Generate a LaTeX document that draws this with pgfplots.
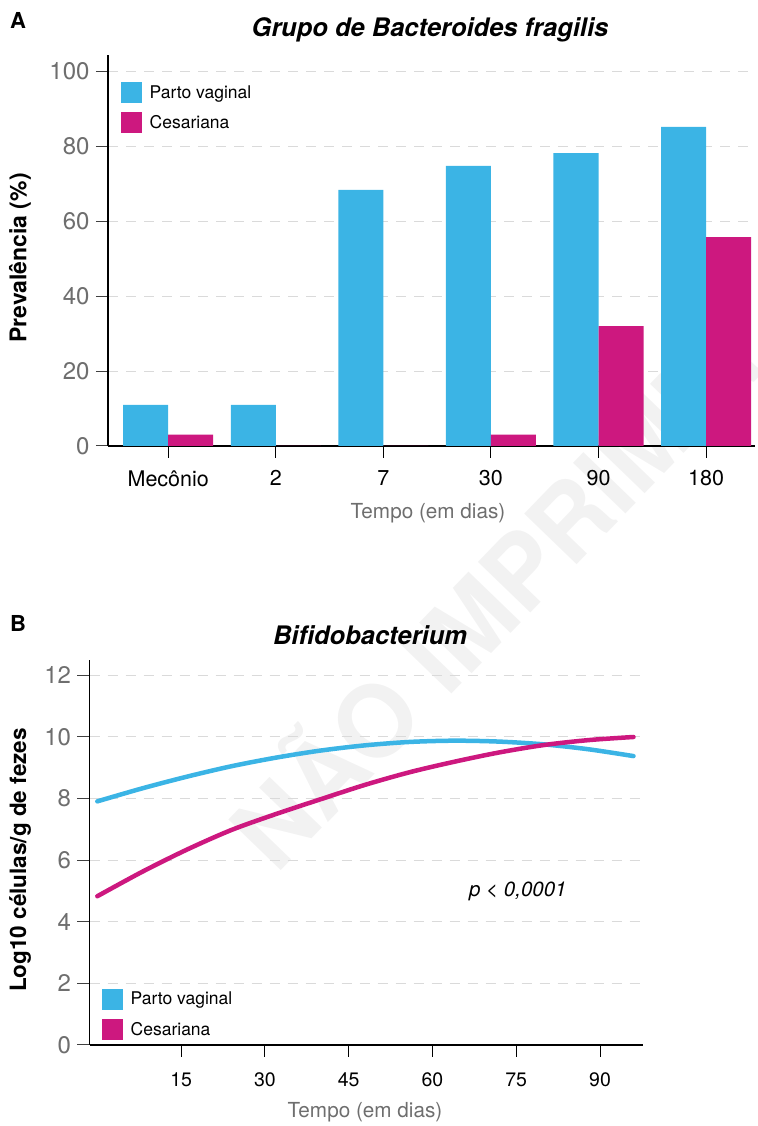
\documentclass[border=0pt]{standalone}
\usepackage{pgfplots}
\pgfplotsset{compat=1.18}
\usepackage{fontspec}
\setmainfont{TeX Gyre Heros}
\definecolor{cblue}{HTML}{3BB4E5}
\definecolor{cmag}{HTML}{CD187F}
\definecolor{tickgray}{HTML}{6E6E6E}
\definecolor{gridgray}{HTML}{DADADA}
\definecolor{wm}{HTML}{F2F2F2}
\pgfplotsset{
  sqlegend/.style={
    legend image code/.code={\fill[##1] (0pt,-10.5pt) rectangle (21pt,10.5pt);},
  },
  mystyle/.style={
    scale only axis,
    axis lines*=left,
    axis line style={black, line width=1.3pt},
    tick align=outside,
    major tick length=12pt,
    ytick style={black!75, line width=1pt},
    xtick style={black, line width=1pt},
    ymajorgrids,
    grid style={gridgray, line width=1pt, dash pattern=on 10pt off 8pt},
    /pgf/number format/assume math mode=true,
    yticklabel style={font=\fontsize{24}{24}\selectfont, text=tickgray, xshift=-3pt},
    xticklabel style={text=black, yshift=-9pt},
    legend style={draw=none, fill=none, font=\fontsize{17.5}{17.5}\selectfont, inner sep=0pt, row sep=9pt,
      /tikz/every odd column/.append style={column sep=5.5pt}},
    legend cell align=left,
  }
}
\begin{document}
\begin{tikzpicture}[x=1pt,y=1pt]
\useasboundingbox (0,0) rectangle (757,1126);
\node[rotate=46, text=wm, font=\fontsize{100}{100}\selectfont\bfseries] at (490,536) {NÃO IMPRIMIR};

% Panel A
\begin{axis}[mystyle, at={(108pt,680pt)}, anchor=south west, width=647pt, height=391pt,
  ybar=0pt, bar width=45pt, xmin=-0.56, xmax=5.455, ymin=0, ymax=104.3,
  xtick={0,1,2,3,4,5}, xticklabels={Mecônio,2,7,30,90,180}, ytick={0,20,...,100},
  xticklabel style={font=\fontsize{21.5}{21.5}\selectfont},
  sqlegend,
  legend style={at={(0.0201,0.931)}, anchor=north west}]
\addplot[fill=cblue, draw=none] coordinates {(0,11) (1,11) (2,68.3) (3,74.7) (4,78.1) (5,85.1)};
\addplot[fill=cmag, draw=none] coordinates {(0,3.0) (1,0) (2,0) (3,3) (4,32) (5,55.7)};
\legend{Parto vaginal, Cesariana}
\end{axis}

% Panel B
\begin{axis}[mystyle, at={(89.5pt,81pt)}, anchor=south west, width=553.5pt, height=385pt,
  xmin=-1.4, xmax=97.7, ymin=0, ymax=12.5, xtick={15,30,...,90}, ytick={0,2,...,12},
  xticklabel style={font=\fontsize{19.5}{19.5}\selectfont, yshift=-3pt},
  sqlegend,
  legend style={at={(0.0226,0.013)}, anchor=south west}]
\addplot[cblue, line width=4.5pt, line cap=round, smooth, forget plot] coordinates {
(0,7.91) (8,8.33) (16,8.71) (24,9.05) (32,9.33) (40,9.56) (48,9.73) (56,9.84) (64,9.88) (72,9.85) (80,9.76) (88,9.6) (96,9.38)};
\addplot[cmag, line width=4.5pt, line cap=round, smooth, forget plot] coordinates {
(0,4.83) (8,5.62) (16,6.34) (24,6.98) (32,7.5) (40,7.98) (48,8.45) (56,8.86) (64,9.2) (72,9.5) (80,9.74) (88,9.9) (96,10.0)};
\addlegendimage{fill=cblue, draw=none}
\addlegendentry{Parto vaginal}
\addlegendimage{fill=cmag, draw=none}
\addlegendentry{Cesariana}
\node[font=\fontsize{20.5}{20.5}\selectfont\itshape] at (axis cs:75.3,5.0) {p < 0,0001};
\end{axis}

% Titles and labels
\node[font=\fontsize{22}{22}\selectfont\bfseries] at (18,1106) {A};
\node[font=\fontsize{25.5}{25.5}\selectfont\bfseries\itshape] at (430,1096) {Grupo de Bacteroides fragilis};
\node[font=\fontsize{23}{23}\selectfont\bfseries, rotate=90] at (20,868) {Prevalência (\%)};
\node[font=\fontsize{20.7}{20.7}\selectfont, text=tickgray] at (428,613) {Tempo (em dias)};

\node[font=\fontsize{22}{22}\selectfont\bfseries] at (18,503) {B};
\node[font=\fontsize{25.5}{25.5}\selectfont\bfseries\itshape] at (370,491) {Bifidobacterium};
\node[font=\fontsize{22.5}{22.5}\selectfont\bfseries, rotate=90] at (20,266) {Log10 células/g de fezes};
\node[font=\fontsize{20.7}{20.7}\selectfont, text=tickgray] at (365,14) {Tempo (em dias)};
\end{tikzpicture}
\end{document}
